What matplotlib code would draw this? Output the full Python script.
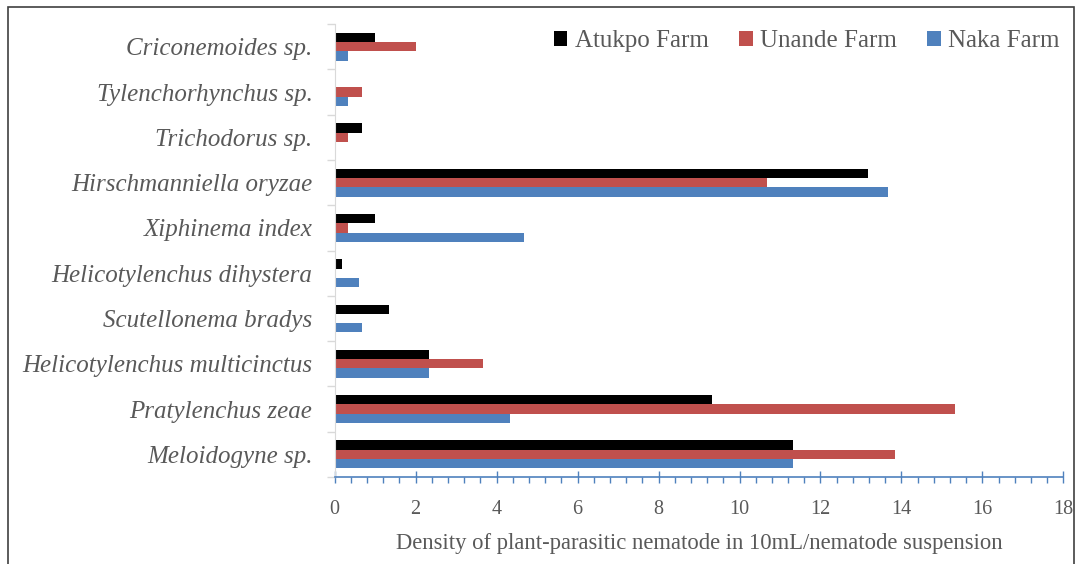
import matplotlib
matplotlib.use('Agg')
import matplotlib.pyplot as plt
import numpy as np
from matplotlib.patches import Rectangle
from matplotlib.ticker import MultipleLocator, FixedLocator

# nematode species, listed bottom to top
species = ['Meloidogyne sp.', 'Pratylenchus zeae', 'Helicotylenchus multicinctus',
           'Scutellonema bradys', 'Helicotylenchus dihystera', 'Xiphinema index',
           'Hirschmanniella oryzae', 'Trichodorus sp.', 'Tylenchorhynchus sp.',
           'Criconemoides sp.']

# mean density per farm
atukpo = [11.33, 9.33, 2.33, 1.33, 0.17, 1.0, 13.17, 0.67, 0.0, 1.0]
unande = [13.83, 15.33, 3.67, 0.0, 0.0, 0.33, 10.67, 0.33, 0.67, 2.0]
naka = [11.33, 4.33, 2.33, 0.67, 0.6, 4.67, 13.67, 0.0, 0.33, 0.33]

farms = ['Atukpo Farm', 'Unande Farm', 'Naka Farm']
colors = ['#000000', '#C0504D', '#4F81BD']

plt.rcParams['font.family'] = ['Liberation Serif', 'DejaVu Serif']
grey = '#595959'

fig = plt.figure(figsize=(10.77, 5.64), dpi=100)
ax = fig.add_axes([0.3108, 0.1543, 0.6765, 0.803])

y = np.arange(len(species))
h = 0.205
for i, (vals, name, c) in enumerate(zip([atukpo, unande, naka], farms, colors)):
    ax.barh(y + (1 - i) * h, vals, height=h, color=c, label=name, zorder=2)

ax.set_xlim(0, 18)
ax.set_ylim(-0.5, len(species) - 0.5)

# x axis: blue line with crossing major ticks and outer minor ticks
ax.xaxis.set_major_locator(MultipleLocator(2))
ax.xaxis.set_minor_locator(MultipleLocator(0.4))
ax.tick_params(axis='x', which='major', direction='inout', length=9, width=1,
               color='#4F81BD', labelsize=14.5, labelcolor=grey, pad=12)
ax.tick_params(axis='x', which='minor', direction='out', length=4, width=1,
               color='#4F81BD')

# y axis: category labels, ticks between categories
ax.set_yticks(y)
ax.set_yticklabels(species, fontstyle='italic', fontsize=18, color=grey)
ax.yaxis.set_minor_locator(FixedLocator(np.arange(-0.5, len(species), 1)))
ax.tick_params(axis='y', which='major', length=0, pad=16)
ax.tick_params(axis='y', which='minor', direction='out', length=6, width=1,
               color='#D9D9D9')

for s in ['top', 'right']:
    ax.spines[s].set_visible(False)
ax.spines['left'].set_color('#D9D9D9')
ax.spines['bottom'].set_color('#4F81BD')
ax.spines['bottom'].set_linewidth(1.2)

ax.set_xlabel('Density of plant-parasitic nematode in 10mL/nematode suspension',
              fontsize=16.3, color=grey, labelpad=10)

ax.legend(loc='upper right', bbox_to_anchor=(0.995, 0.987), ncol=3, frameon=False,
          fontsize=18, handlelength=0.55, handleheight=0.55, handletextpad=0.3,
          columnspacing=1.2, labelcolor=grey, borderaxespad=0, borderpad=0)

# outer frame
fig.patches.append(Rectangle((8 / 1077, -0.1), 1066 / 1077, 1.1 - 7 / 564,
                             transform=fig.transFigure, fill=False,
                             edgecolor='#404040', linewidth=1.2))

fig.savefig('out.png', dpi=100)
